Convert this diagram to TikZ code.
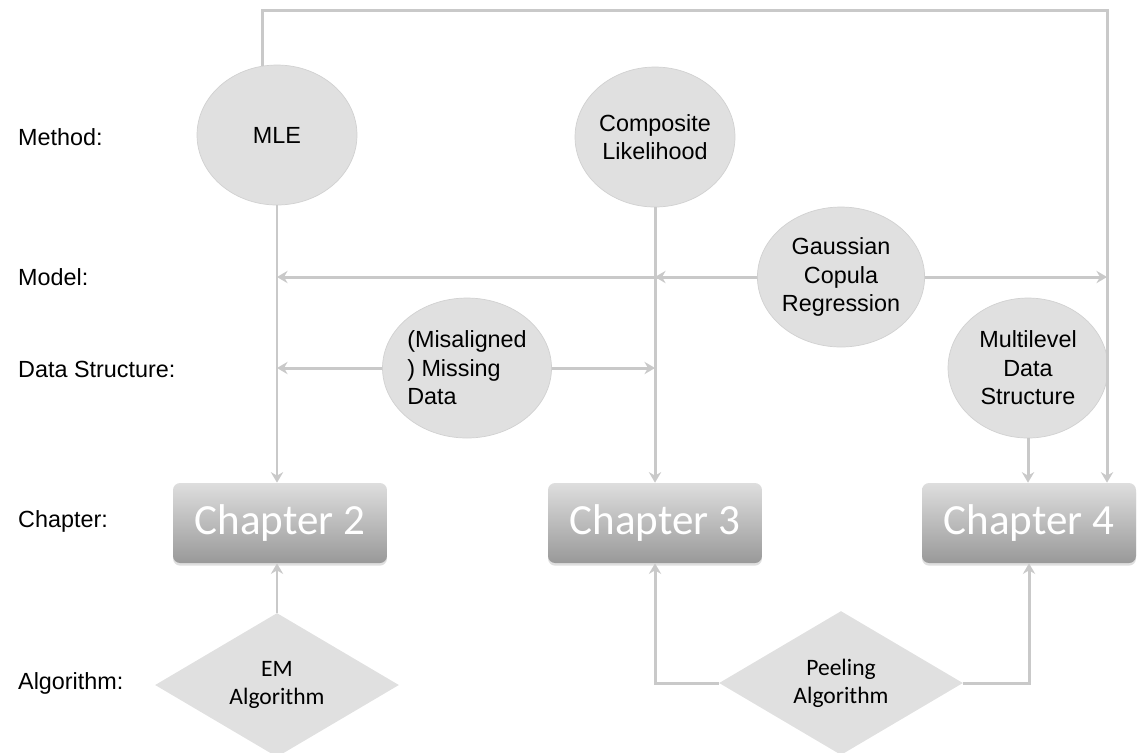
\documentclass[tikz,border=0pt]{standalone}
\usepackage{fontspec}
\setmainfont{Liberation Sans}
\newfontfamily\calfont{Carlito}
\usetikzlibrary{shapes.geometric,arrows.meta,shadows}

\begin{document}
\begin{tikzpicture}[x=0.02cm,y=-0.02cm,
  bubble/.style={ellipse,draw=black!18,fill=black!12,minimum width=3.2cm,minimum height=2.8cm,inner sep=0,align=center,font=\fontsize{13.3}{16.2}\selectfont},
  chapbox/.style={rectangle,rounded corners=4pt,top color=black!13,bottom color=black!40,minimum width=4.28cm,minimum height=1.6cm,text=white,font=\calfont\fontsize{24.5}{28}\selectfont,drop shadow={shadow xshift=0pt,shadow yshift=-1.5pt,opacity=.25}},
  algo/.style={diamond,fill=black!12,minimum width=4.88cm,minimum height=2.88cm,inner sep=0,shape aspect=1.7,align=center,font=\calfont\fontsize{13.4}{16}\selectfont},
  lbl/.style={anchor=west,font=\fontsize{13.3}{16}\selectfont},
  arr/.style={draw=black!21,line width=1.7pt,-{Stealth[length=6pt,width=7pt,inset=2pt]}}]

\useasboundingbox (0,0) rectangle (1141,752);

% row labels
\node[lbl] (lmeth) at (12,137) {Method:};
\node[lbl] (lmod) at (12,277) {Model:};
\node[lbl] (ldat) at (12,369) {Data Structure:};
\node[lbl] (lchap) at (12,521) {Chapter:};
\node[lbl] (lalg) at (12,683) {Algorithm:};

% methods, model, data
\node[bubble] (mle) at (277,135) {MLE};
\node[bubble] (cl) at (655,137) {Composite\\Likelihood};
\node[bubble] (gcr) at (841,277) {Gaussian\\Copula\\Regression};
\node[bubble,align=left] (mis) at (467,368) {(Misaligned\\) Missing\\Data};
\node[bubble] (mds) at (1028,368) {Multilevel\\Data\\Structure};

% chapters
\node[chapbox] (ch2) at (280,523) {Chapter 2};
\node[chapbox] (ch3) at (655,523) {Chapter 3};
\node[chapbox] (ch4) at (1029,523) {Chapter 4};

% algorithms
\node[algo] (em) at (277,685) {EM\\Algorithm};
\node[algo] (peel) at (841,683) {Peeling\\Algorithm};

\coordinate (tr) at (1107,10);

\draw[arr] (mle.102) |- (tr) -- (tr |- ch4.north);
\draw[arr] (mle.south) -- (mle.south |- ch2.north);
\draw[arr] (cl.south) -- (cl.south |- ch3.north);
\draw[arr] (mds.south) -- (mds.south |- ch4.north);

\draw[arr] (gcr.west) -- (gcr.west -| mle);
\draw[arr] (gcr.west) -- (gcr.west -| cl);
\draw[arr] (gcr.east) -- (gcr.east -| tr);
\draw[arr] (mis.west) -- (mis.west -| mle);
\draw[arr] (mis.east) -- (mis.east -| cl);

\draw[arr] (em.north) -- (em.north |- ch2.south);
\draw[arr] (peel.west) -| (ch3.south);
\draw[arr] (peel.east) -| (ch4.south);

\end{tikzpicture}
\end{document}
